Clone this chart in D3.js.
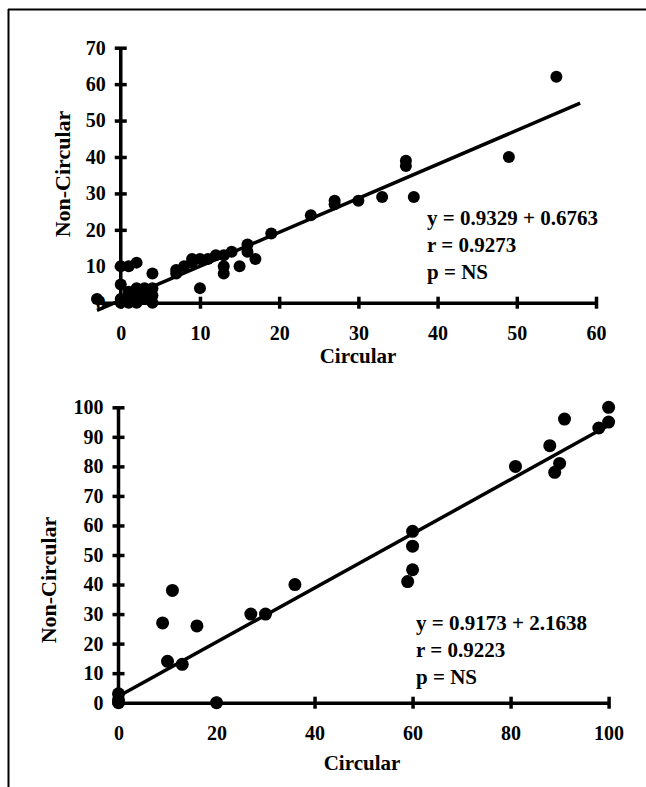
<!doctype html>
<html>
  <head>
    <script src="https://cdn.jsdelivr.net/npm/d3@7/dist/d3.min.js"></script>
    <style>
      body { margin: 0; background: #fff; }
      text { font-family: "Liberation Serif", "Times New Roman", serif; font-weight: bold; fill: #000; }
      .axis path, .axis line { stroke: #000; stroke-width: 3.5; }
    </style>
  </head>
  <body>
    <svg id="chart" width="646" height="787"></svg>
    <script>
      // top panel: circular vs non-circular
      var topPoints = [
        [55, 62], [49, 40], [36, 39], [36, 37.5], [37, 29], [33, 29], [30, 28], [27, 28], [27, 27],
        [24, 24], [19, 19], [16, 16], [16, 14], [17, 12], [15, 10], [13, 10], [13, 8], [14, 14],
        [13, 13], [12, 13], [11, 12], [10, 12], [9, 12], [9, 11], [8, 10], [7, 9], [7, 8], [10, 4],
        [4, 8], [2, 11], [1, 10], [0, 10], [0, 5], [-3, 1], [0, 0], [1, 1], [1, 3], [2, 2], [2, 4],
        [3, 3], [3, 1], [4, 2], [4, 0], [2, 0], [1, 0], [3, 4], [4, 4], [0, 1], [2.5, 2.5], [3.5, 1.5]
      ];
      var topFit = { intercept: 0.6763, slope: 0.9329, from: -3, to: 58 };
      var topXTicks = [0, 10, 20, 30, 40, 50, 60];
      var topYTicks = [0, 10, 20, 30, 40, 50, 60, 70];
      var topText = ["y = 0.9329 + 0.6763", "r = 0.9273", "p = NS"];

      // bottom panel
      var botPoints = [
        [100, 100], [100, 95], [98, 93], [91, 96], [88, 87], [90, 81], [89, 78], [81, 80],
        [60, 58], [60, 53], [60, 45], [59, 41], [36, 40], [30, 30], [27, 30], [11, 38], [9, 27],
        [16, 26], [10, 14], [13, 13], [20, 0], [0, 3], [0, 1], [0, 0]
      ];
      var botFit = { intercept: 2.1638, slope: 0.9173, from: 0, to: 100 };
      var botXTicks = [0, 20, 40, 60, 80, 100];
      var botYTicks = [0, 10, 20, 30, 40, 50, 60, 70, 80, 90, 100];
      var botText = ["y = 0.9173 + 2.1638", "r = 0.9223", "p = NS"];

      var svg = d3.select("#chart");

      // frame
      svg.append("line").attr("x1", 8).attr("x2", 646).attr("y1", 9.5).attr("y2", 9.5)
        .attr("stroke", "#000").attr("stroke-width", 2);
      svg.append("line").attr("x1", 8.5).attr("x2", 8.5).attr("y1", 9).attr("y2", 787)
        .attr("stroke", "#000").attr("stroke-width", 2);

      function panel(cfg) {
        var x = d3.scaleLinear().domain(cfg.xDomain).range(cfg.xRange);
        var y = d3.scaleLinear().domain(cfg.yDomain).range(cfg.yRange);
        var g = svg.append("g");

        var xAxis = g.append("g").attr("class", "axis")
          .attr("transform", "translate(0," + y(0) + ")")
          .call(d3.axisBottom(x).tickValues(cfg.xTicks).tickSize(5).tickSizeOuter(0));
        xAxis.selectAll(".tick line").attr("y1", -6).attr("y2", 6);
        xAxis.selectAll(".tick text").attr("y", 23).style("font-size", "20px");

        var yAxis = g.append("g").attr("class", "axis")
          .attr("transform", "translate(" + x(0) + ",0)")
          .call(d3.axisLeft(y).tickValues(cfg.yTicks).tickSize(5).tickSizeOuter(0));
        yAxis.selectAll(".tick line").attr("x1", -6).attr("x2", 6);
        yAxis.selectAll(".tick text").attr("x", -15).style("font-size", "20px");
        yAxis.select(".domain").attr("d", "M0," + y(cfg.yDomain[1]) + "V" + y(0));

        g.append("line")
          .attr("x1", x(cfg.fit.from)).attr("y1", y(cfg.fit.intercept + cfg.fit.slope * cfg.fit.from))
          .attr("x2", x(cfg.fit.to)).attr("y2", y(cfg.fit.intercept + cfg.fit.slope * cfg.fit.to))
          .attr("stroke", "#000").attr("stroke-width", 3.5);

        g.selectAll("circle").data(cfg.points).enter().append("circle")
          .attr("cx", d => x(d[0])).attr("cy", d => y(d[1]))
          .attr("r", cfg.r).attr("fill", "#000");

        g.selectAll("text.eq").data(cfg.text).enter().append("text")
          .attr("class", "eq")
          .attr("x", cfg.textX).attr("y", (d, i) => cfg.textY + i * 27)
          .style("font-size", "21px")
          .text(d => d);

        g.append("text")
          .attr("x", cfg.xTitle[0]).attr("y", cfg.xTitle[1])
          .attr("text-anchor", "middle").style("font-size", "21px")
          .text("Circular");

        g.append("text")
          .attr("transform", "translate(" + cfg.yTitle[0] + "," + cfg.yTitle[1] + ") rotate(-90)")
          .attr("text-anchor", "middle").style("font-size", "22px")
          .text("Non-Circular");
      }

      panel({
        points: topPoints, fit: topFit, xTicks: topXTicks, yTicks: topYTicks, text: topText,
        xDomain: [-3, 60], xRange: [97, 596], yDomain: [0, 70], yRange: [302.7, 47.7],
        r: 6, textX: 427, textY: 225, xTitle: [358, 363], yTitle: [70, 174]
      });

      panel({
        points: botPoints, fit: botFit, xTicks: botXTicks, yTicks: botYTicks, text: botText,
        xDomain: [0, 100], xRange: [118.5, 608.6], yDomain: [0, 100], yRange: [702.7, 407.3],
        r: 6.5, textX: 416, textY: 630, xTitle: [362, 770], yTitle: [56, 580]
      });
    </script>
  </body>
</html>
